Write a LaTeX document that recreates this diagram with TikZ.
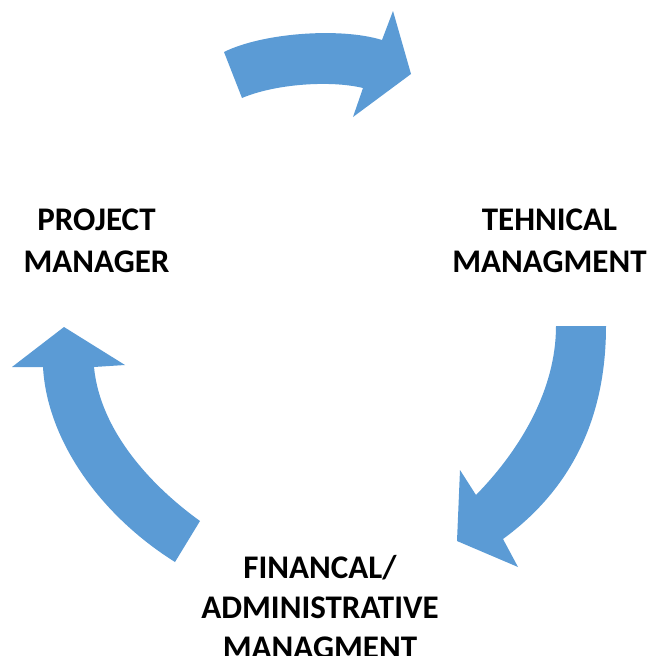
\documentclass[tikz,border=0pt]{standalone}
\usepackage{fontspec}
\setmainfont{Carlito}
\definecolor{arrowblue}{HTML}{5B9BD5}
\begin{document}
\begin{tikzpicture}[x=1pt,y=-1pt,
  blockarrow/.style={fill=arrowblue,draw=none},
  lbl/.style={font=\bfseries\fontsize{33}{42}\selectfont,align=center,inner sep=0pt,anchor=base,text=black}]
\useasboundingbox (0,0) rectangle (652,656);
% top arrow
\path[blockarrow] (224,52) .. controls (262,33) and (340,27) .. (382,40)
  -- (393,11) -- (411,74) -- (353,117) -- (363,88)
  .. controls (330,80) and (275,84) .. (242,98) -- cycle;
% right arrow
\path[blockarrow] (556,326) -- (606,326)
  .. controls (606,420) and (570,490) .. (503,539)
  -- (518,567) -- (457,541) -- (460,470) -- (476,495)
  .. controls (520,450) and (556,390) .. (556,326) -- cycle;
% left arrow
\path[blockarrow] (64,327) -- (125,365) -- (94,367)
  .. controls (100,430) and (150,485) .. (200,521)
  -- (175,562)
  .. controls (100,515) and (47,440) .. (43,367)
  -- (12,367) -- cycle;
\node[lbl] (pm) at (96.5,272) {PROJECT\\MANAGER};
\node[lbl] (tm) at (549.5,272.5) {TEHNICAL\\MANAGMENT};
\node[lbl,font=\bfseries\fontsize{33}{40}\selectfont] (fm) at (320,658) {FINANCAL/\\ADMINISTRATIVE\\MANAGMENT};
\end{tikzpicture}
\end{document}
